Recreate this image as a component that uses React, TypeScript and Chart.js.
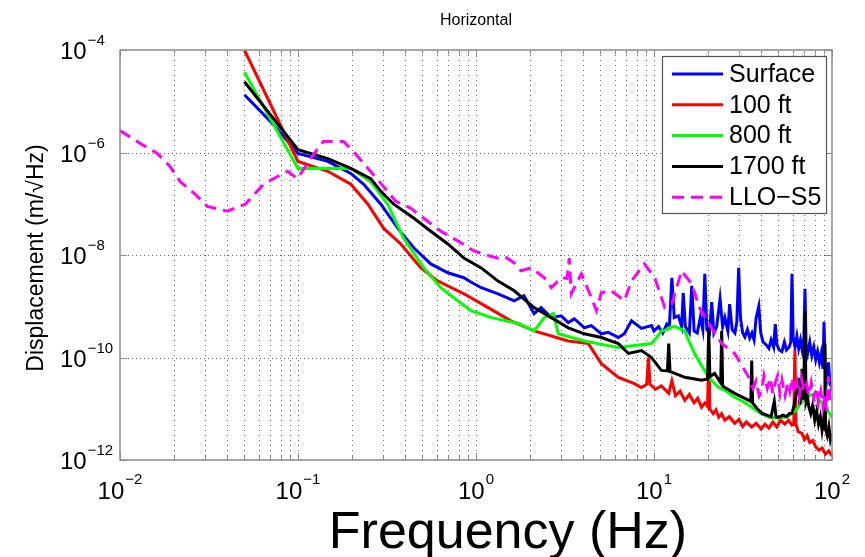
import React, { useEffect, useRef } from "react";
import { Chart, registerables } from "chart.js";

Chart.register(...registerables);

const FONT = '"Liberation Sans", Arial, Helvetica, sans-serif';

const chartTitle = "Horizontal";
const xTitle = "Frequency (Hz)";
const yTitle = "Displacement (m/\u221AHz)";

const seriesNames = ["Surface", "100 ft", "800 ft", "1700 ft", "LLO\u2212S5"];
const seriesColors = ["#0000ff", "#ff0000", "#00ff00", "#000000", "#ff00ff"];

const xMin = 0.01;
const xMax = 100;
const yMin = 1e-12;
const yMax = 1e-4;

const xLabelExps = [-2, -1, 0, 1, 2];
const yLabelExps = [-12, -10, -8, -6, -4];

const surfaceFreq = [0.05, 0.0728, 0.1, 0.147, 0.198, 0.234, 0.292, 0.364, 0.448, 0.557, 0.695, 0.855, 0.93, 1.07, 1.33, 1.64, 1.86, 2.12, 2.32, 2.65, 3.01, 3.3, 3.57, 4.06, 4.45, 5.06, 5.54, 6.31, 6.82, 7.47, 8.51, 9.68,
  10.0, 10.6, 11.2, 11.8, 12.2, 12.6, 13.0, 13.7, 14.3, 14.6, 15.0, 15.8, 16.3, 16.8, 17.5, 18.2, 18.8, 19.3, 19.8, 20.5, 21.1, 21.7, 22.5, 23.5, 24.3, 25.0, 26.0, 26.6, 27.5, 28.5, 29.2, 29.9, 30.6, 31.5, 32.4, 33.5, 34.5, 35.5, 36.5, 37.5, 38.8, 39.8, 41.0, 42.5, 44.2, 45.5, 47.0, 48.0, 49.0, 50.5, 52.3, 54.0, 55.5, 57.5, 58.7, 59.6, 60.5, 62.0, 63.5, 65.0, 66.5, 68.0, 69.5, 70.5, 71.5, 73.0, 75.0, 77.0, 79.0, 81.0, 83.0, 85.0, 87.0, 89.0, 90.2, 91.5, 93.5, 95.5, 97.5, 100];
const surfaceVal = [1.34e-5, 3.5e-6, 9.6e-7, 6.7e-7, 3.9e-7, 2.4e-7, 9.8e-8, 3.3e-8, 1.37e-8, 6.7e-9, 4.5e-9, 3.6e-9, 3.0e-9, 2.3e-9, 1.75e-9, 1.28e-9, 1.6e-9, 7.2e-10, 9.4e-10, 6.0e-10, 6.5e-10, 4.8e-10, 5.7e-10, 3.8e-10, 4.2e-10, 2.9e-10, 3.1e-10, 2.45e-10, 2.9e-10, 5.2e-10, 3.7e-10, 4.2e-10,
  3.3e-10, 4.0e-10, 3.0e-10, 4.5e-10, 4.0e-10, 3.6e-9, 6.0e-10, 6.5e-10, 4.0e-10, 1.8e-9, 4.0e-10, 3.0e-10, 2.5e-9, 3.3e-10, 3.0e-10, 6.0e-10, 3.5e-10, 4.3e-9, 3.5e-10, 3.0e-10, 1.2e-9, 3.0e-10, 4.0e-10, 1.4e-9, 4.0e-10, 6.0e-10, 3.3e-10, 1.1e-9, 3.5e-10, 3.0e-10, 5.0e-10, 5.6e-9, 6.0e-10, 3.0e-10, 2.5e-10, 3.5e-10, 2.4e-10, 3.0e-10, 2.2e-10, 6.0e-10, 1.0e-9, 3.0e-10, 2.0e-10, 1.8e-10, 1.5e-10, 2.2e-10, 1.6e-10, 4.5e-10, 1.8e-10, 1.4e-10, 1.3e-10, 2.0e-10, 1.4e-10, 1.6e-10, 2.0e-10, 4.3e-9, 2.5e-10, 1.6e-10, 2.6e-10, 1.5e-10, 2.2e-10, 1.4e-10, 2.5e-10, 2.2e-9, 1.8e-10, 1.2e-10, 2.0e-10, 1.1e-10, 1.6e-10, 9.0e-11, 1.3e-10, 8.0e-11, 1.2e-10, 6.0e-11, 5.0e-10, 6.0e-11, 4.0e-11, 8.0e-11, 3.0e-11, 2.6e-11];

const ft100Freq = [0.05, 0.1, 0.147, 0.198, 0.247, 0.303, 0.378, 0.49, 0.611, 0.855, 1.17, 1.57, 2.12, 3.3, 4.28, 5.06, 6.31, 7.76,
  8.5, 9.1, 9.31, 9.5, 10.2, 11.0, 12.1, 12.6, 13.2, 14.0, 14.9, 15.8, 16.8, 17.6, 18.5, 19.3, 20.0, 20.3, 20.6, 21.5, 22.3, 23.1, 24.0, 25.0, 26.5, 28.4, 30.0, 31.5, 33.0, 35.4, 37.5, 40.0, 42.0, 44.2, 46.5, 49.0, 51.5, 54.3, 57.0, 59.5, 61.0, 61.9, 62.8, 64.5, 67.8, 70.0, 72.5, 75.0, 78.0, 81.0, 84.5, 88.0, 92.0, 96.0, 100];
const ft100Val = [1.0e-4, 6.7e-7, 4.3e-7, 2.4e-7, 9.8e-8, 3.3e-8, 1.64e-8, 5.6e-9, 3.1e-9, 1.75e-9, 9.4e-10, 5.2e-10, 3.3e-10, 2.1e-10, 1.87e-10, 7.6e-11, 4.1e-11, 3.1e-11,
  2.6e-11, 3.0e-11, 1.0e-10, 3.0e-11, 2.4e-11, 2.8e-11, 2.0e-11, 3.5e-11, 1.8e-11, 2.2e-11, 1.46e-11, 1.9e-11, 1.3e-11, 1.6e-11, 1.07e-11, 1.3e-11, 1.1e-11, 1.56e-10, 1.0e-11, 8.0e-12, 9.5e-12, 6.8e-12, 8.0e-12, 6.0e-12, 7.0e-12, 5.2e-12, 6.2e-12, 4.5e-12, 5.5e-12, 4.4e-12, 5.2e-12, 4.0e-12, 5.0e-12, 4.2e-12, 5.5e-12, 4.4e-12, 6.0e-12, 5.0e-12, 6.0e-12, 4.8e-12, 5.0e-12, 1.37e-10, 5.0e-12, 3.6e-12, 3.3e-12, 2.5e-12, 3.0e-12, 2.2e-12, 2.4e-12, 1.8e-12, 1.56e-12, 1.7e-12, 1.3e-12, 1.5e-12, 1.2e-12];

const ft800Freq = [0.05, 0.1, 0.198, 0.256, 0.319, 0.393, 0.509, 0.635, 0.751, 0.938, 1.22, 1.73, 2.12, 2.42, 2.72, 2.9, 4.06, 6.31, 9.68,
  10.3, 11.0, 11.8, 12.4, 13.1, 14.0, 14.9, 15.8, 16.9, 18.5, 20.3, 21.5, 23.1, 25.5, 28.4, 31.5, 35.4, 40.0, 44.2, 49.0, 54.3, 58.0, 62.0, 66.0, 70.0, 75.0, 80.2, 85.0, 91.3, 95.0, 100];
const ft800Val = [3.7e-5, 4.9e-7, 4.9e-7, 2.7e-7, 9.8e-8, 2.1e-8, 5.6e-9, 2.3e-9, 1.46e-9, 8.2e-10, 6.0e-10, 4.6e-10, 3.3e-10, 6.0e-10, 7.2e-10, 2.9e-10, 2.1e-10, 1.56e-10, 1.87e-10,
  2.4e-10, 3.3e-10, 3.5e-10, 3.9e-10, 4.0e-10, 3.6e-10, 3.3e-10, 2.0e-10, 1.2e-10, 7.0e-11, 4.1e-11, 3.3e-11, 2.6e-11, 2.2e-11, 1.67e-11, 1.4e-11, 1.07e-11, 8.0e-12, 6.8e-12, 6.5e-12, 6.8e-12, 7.5e-12, 9.0e-12, 1.2e-11, 1.6e-11, 1.8e-11, 2.0e-11, 1.5e-11, 1.07e-11, 9.0e-12, 6.8e-12];

const ft1700Freq = [0.05, 0.1, 0.147, 0.198, 0.256, 0.292, 0.345, 0.448, 0.557, 0.695, 0.855, 1.07, 1.33, 1.64, 2.12, 2.65, 3.3, 4.06, 5.06, 6.31, 7.18, 8.51, 9.68, 11.0, 11.9, 12.1, 12.3, 13.1, 14.9, 18.5, 20.0, 20.3, 20.6, 21.9, 23.7, 24.0, 24.3, 25.0, 28.4,
  35.0, 35.4, 35.8, 38.0, 40.3, 43.0, 45.5, 47.4, 48.5, 50.2, 53.0, 55.5, 57.5, 59.6, 61.0, 62.0, 63.5, 65.0, 66.0, 67.0, 67.8, 68.5, 69.5, 70.5, 71.5, 73.0, 74.2, 76.0, 78.0, 80.0, 82.0, 84.0, 86.0, 87.9, 89.5, 90.5, 91.3, 92.0, 94.0, 96.0, 98.0, 100];
const ft1700Val = [2.4e-5, 1.14e-6, 7.6e-7, 4.9e-7, 3.1e-7, 1.75e-7, 9.8e-8, 5.2e-8, 2.9e-8, 1.64e-8, 8.7e-9, 5.6e-9, 3.1e-9, 2.0e-9, 9.4e-10, 6.0e-10, 3.8e-10, 2.9e-10, 2.45e-10, 1.87e-10, 1.2e-10, 1.37e-10, 1.0e-10, 5.6e-11, 5.5e-11, 1.87e-10, 5.3e-11, 4.9e-11, 4.1e-11, 3.6e-11, 3.8e-11, 3.8e-10, 4.2e-11, 4.9e-11, 3.2e-11, 3.3e-10, 2.8e-11, 2.6e-11, 2.0e-11,
  1.4e-11, 8.7e-11, 1.3e-11, 1.0e-11, 8.2e-12, 7.5e-12, 7.0e-12, 1.4e-11, 7.0e-12, 6.8e-12, 7.5e-12, 7.0e-12, 8.0e-12, 8.2e-12, 1.1e-11, 1.5e-11, 2.2e-11, 4.0e-11, 1.2e-11, 2.5e-11, 6.0e-11, 1.5e-11, 2.5e-11, 8.2e-10, 1.3e-11, 1.6e-11, 1.07e-11, 8.0e-12, 1.2e-11, 6.0e-12, 9.0e-12, 5.0e-12, 7.0e-12, 3.8e-12, 6.0e-12, 4.0e-12, 1.87e-10, 4.0e-12, 3.0e-12, 4.5e-12, 2.5e-12, 3.3e-12];

const lloFreq = [0.01, 0.013, 0.0162, 0.0191, 0.0218, 0.0265, 0.0309, 0.0401, 0.0506, 0.064, 0.0768, 0.0873, 0.0993, 0.122, 0.139, 0.18, 0.205, 0.247, 0.292, 0.354, 0.43, 0.509, 0.635, 0.792, 0.975, 1.2, 1.33, 1.46, 1.64, 1.79, 2.04, 2.42, 2.65, 3.01, 3.25, 3.34, 3.43, 3.91, 4.45, 4.75, 5.06, 5.76, 6.82, 7.47, 8.84, 10.1, 11.5, 12.6, 14.3, 16.3, 18.0, 20.3, 24.0, 28.4,
  34.1, 36.0, 37.5, 39.0, 40.3, 41.5, 43.3, 45.0, 46.5, 47.8, 49.5, 51.0, 52.4, 54.5, 56.5, 58.0, 59.6, 61.5, 63.5, 65.5, 67.5, 69.5, 72.0, 74.2, 76.5, 79.0, 81.7, 84.0, 86.5, 89.0, 91.3, 93.5, 95.5, 97.5, 100];
const lloVal = [2.67e-6, 1.5e-6, 9.6e-7, 5.35e-7, 2.7e-7, 1.53e-7, 8.9e-8, 7.15e-8, 9.8e-8, 2.4e-7, 3.4e-7, 4.3e-7, 3.1e-7, 9.1e-7, 1.64e-6, 1.64e-6, 1.05e-6, 4.9e-7, 2.5e-7, 1.12e-7, 8.2e-8, 5.2e-8, 2.9e-8, 1.87e-8, 1.2e-8, 9.5e-9, 8.7e-9, 9.2e-9, 7.0e-9, 4.9e-9, 5.6e-9, 3.6e-9, 2.3e-9, 3.6e-9, 3.5e-9, 8.7e-9, 1.75e-9, 4.3e-9, 1.46e-9, 8.2e-10, 1.83e-9, 2.0e-9, 1.28e-9, 3.1e-9, 6.7e-9, 3.6e-9, 9.4e-10, 1.12e-9, 4.9e-9, 2.7e-9, 9.4e-10, 4.6e-10, 1.87e-10, 1.2e-10,
  4.1e-11, 2.5e-11, 3.5e-11, 1.8e-11, 2.3e-11, 4.5e-11, 2.5e-11, 4.0e-11, 2.0e-11, 3.1e-11, 4.4e-11, 2.0e-11, 3.6e-11, 1.8e-11, 3.2e-11, 2.2e-11, 4.0e-11, 2.0e-11, 3.3e-11, 1.7e-11, 3.8e-11, 2.2e-11, 3.0e-11, 1.8e-11, 3.2e-11, 1.6e-11, 2.6e-11, 1.3e-11, 2.2e-11, 1.1e-11, 1.8e-11, 9.0e-12, 4.3e-11, 1.5e-11, 3.1e-11];

const seriesFreqs = [surfaceFreq, ft100Freq, ft800Freq, ft1700Freq, lloFreq];
const seriesVals = [surfaceVal, ft100Val, ft800Val, ft1700Val, lloVal];
const seriesDash = [[], [], [], [], [12, 7]];

// tick positions (decade minor ticks on x, labelled decades on y)
const xTickValues: number[] = [];
for (let e = xLabelExps[0]; e < xLabelExps[xLabelExps.length - 1]; e++) {
  for (let d = 1; d <= 9; d++) xTickValues.push(parseFloat((d * Math.pow(10, e)).toPrecision(3)));
}
xTickValues.push(xMax);
const yTickValues = yLabelExps.map((e) => Math.pow(10, e));

function expText(e: number) {
  return e < 0 ? "\u2212" + String(-e) : String(e);
}

const matlabPlugin = {
  id: "matlabLook",
  beforeDatasetsDraw(chart: any) {
    const { ctx, chartArea: a, scales } = chart;
    const x = scales.x;
    const y = scales.y;
    ctx.save();
    ctx.lineWidth = 1;
    ctx.strokeStyle = "rgba(70,70,70,0.8)";
    ctx.setLineDash([1, 4]);
    xTickValues.forEach((v) => {
      if (v <= xMin || v >= xMax) return;
      const px = Math.round(x.getPixelForValue(v)) + 0.5;
      ctx.beginPath();
      ctx.moveTo(px, a.top);
      ctx.lineTo(px, a.bottom);
      ctx.stroke();
    });
    ctx.setLineDash([1, 3]);
    yTickValues.forEach((v) => {
      if (v <= yMin || v >= yMax) return;
      const py = Math.round(y.getPixelForValue(v)) + 0.5;
      ctx.beginPath();
      ctx.moveTo(a.left, py);
      ctx.lineTo(a.right, py);
      ctx.stroke();
    });
    ctx.setLineDash([]);
    ctx.strokeStyle = "#8a8a8a";
    xTickValues.forEach((v) => {
      const px = Math.round(x.getPixelForValue(v)) + 0.5;
      const major = xLabelExps.some((e) => Math.abs(Math.log10(v) - e) < 1e-6);
      const len = major ? 7 : 4;
      ctx.beginPath();
      ctx.moveTo(px, a.bottom);
      ctx.lineTo(px, a.bottom - len);
      ctx.moveTo(px, a.top);
      ctx.lineTo(px, a.top + len);
      ctx.stroke();
    });
    yTickValues.forEach((v) => {
      const py = Math.round(y.getPixelForValue(v)) + 0.5;
      ctx.beginPath();
      ctx.moveTo(a.left, py);
      ctx.lineTo(a.left + 7, py);
      ctx.moveTo(a.right, py);
      ctx.lineTo(a.right - 7, py);
      ctx.stroke();
    });
    ctx.restore();
  },
  afterDatasetsDraw(chart: any) {
    const { ctx, chartArea: a } = chart;
    ctx.save();
    ctx.strokeStyle = "#8a8a8a";
    ctx.lineWidth = 1.5;
    ctx.strokeRect(a.left, a.top, a.right - a.left, a.bottom - a.top);
    const bx = 662, by = 56, bw = 164, bh = 157;
    ctx.fillStyle = "#ffffff";
    ctx.fillRect(bx, by, bw, bh);
    ctx.strokeStyle = "#555555";
    ctx.lineWidth = 1.2;
    ctx.strokeRect(bx + 0.5, by + 0.5, bw, bh);
    ctx.font = "25px " + FONT;
    ctx.textBaseline = "middle";
    ctx.textAlign = "left";
    seriesNames.forEach((name, i) => {
      const ry = 74 + i * 30.8;
      ctx.strokeStyle = seriesColors[i];
      ctx.lineWidth = 3;
      ctx.setLineDash(seriesDash[i]);
      ctx.beginPath();
      ctx.moveTo(672, ry);
      ctx.lineTo(723, ry);
      ctx.stroke();
      ctx.setLineDash([]);
      ctx.fillStyle = "#000000";
      ctx.fillText(name, 729, ry + 1);
    });
    ctx.restore();
  },
  afterDraw(chart: any) {
    const { ctx, chartArea: a, scales } = chart;
    const x = scales.x;
    const y = scales.y;
    ctx.save();
    ctx.fillStyle = "#000000";
    ctx.textBaseline = "alphabetic";
    ctx.textAlign = "left";
    const baseFont = "24px " + FONT;
    const supFont = "15px " + FONT;
    xLabelExps.forEach((e) => {
      const px = x.getPixelForValue(Math.pow(10, e));
      ctx.font = baseFont;
      const w1 = ctx.measureText("10").width;
      ctx.font = supFont;
      const w2 = ctx.measureText(expText(e)).width;
      const start = px - (w1 + w2 + 1) / 2;
      ctx.font = baseFont;
      ctx.fillText("10", start, a.bottom + 39);
      ctx.font = supFont;
      ctx.fillText(expText(e), start + w1 + 1, a.bottom + 24);
    });
    yLabelExps.forEach((e) => {
      const py = y.getPixelForValue(Math.pow(10, e));
      ctx.font = baseFont;
      const w1 = ctx.measureText("10").width;
      ctx.fillText("10", 60, py + 9);
      ctx.font = supFont;
      ctx.fillText(expText(e), 60 + w1 + 1, py - 5);
    });
    ctx.textAlign = "center";
    ctx.font = "16px " + FONT;
    ctx.fillText(chartTitle, (a.left + a.right) / 2, 25);
    ctx.font = "52px " + FONT;
    ctx.fillText(xTitle, 508, 548);
    ctx.translate(37, 258);
    ctx.rotate(-Math.PI / 2);
    ctx.font = "23px " + FONT;
    ctx.textBaseline = "middle";
    ctx.fillText(yTitle, 0, 0);
    ctx.restore();
  },
};

export default function App() {
  const canvasRef = useRef<HTMLCanvasElement | null>(null);

  useEffect(() => {
    document.body.style.margin = "0";
    const canvas = canvasRef.current;
    if (!canvas) return;
    const datasets = seriesNames.map((name, i) => ({
      label: name,
      data: seriesFreqs[i].map((f, j) => ({ x: f, y: seriesVals[i][j] })),
      borderColor: seriesColors[i],
      backgroundColor: seriesColors[i],
      borderWidth: 3,
      borderDash: seriesDash[i],
      pointRadius: 0,
      fill: false,
      tension: 0,
      order: seriesNames.length - i,
    }));
    const chart = new Chart(canvas, {
      type: "line",
      data: { datasets },
      options: {
        animation: false,
        responsive: false,
        devicePixelRatio: 1,
        layout: { padding: { left: 120, right: 33, top: 50, bottom: 97 } },
        scales: {
          x: {
            type: "logarithmic",
            min: xMin,
            max: xMax,
            display: false,
            afterBuildTicks: (s: any) => {
              s.ticks = xTickValues.map((v) => ({ value: v }));
            },
          },
          y: {
            type: "logarithmic",
            min: yMin,
            max: yMax,
            display: false,
            afterBuildTicks: (s: any) => {
              s.ticks = yTickValues.map((v) => ({ value: v }));
            },
          },
        },
        plugins: {
          legend: { display: false },
          title: { display: false },
          tooltip: { enabled: false },
        },
      },
      plugins: [matlabPlugin],
    } as any);
    return () => chart.destroy();
  }, []);

  return (
    <div style={{ width: 865, height: 557, background: "#ffffff" }}>
      <canvas ref={canvasRef} width={865} height={557} style={{ display: "block" }} />
    </div>
  );
}
